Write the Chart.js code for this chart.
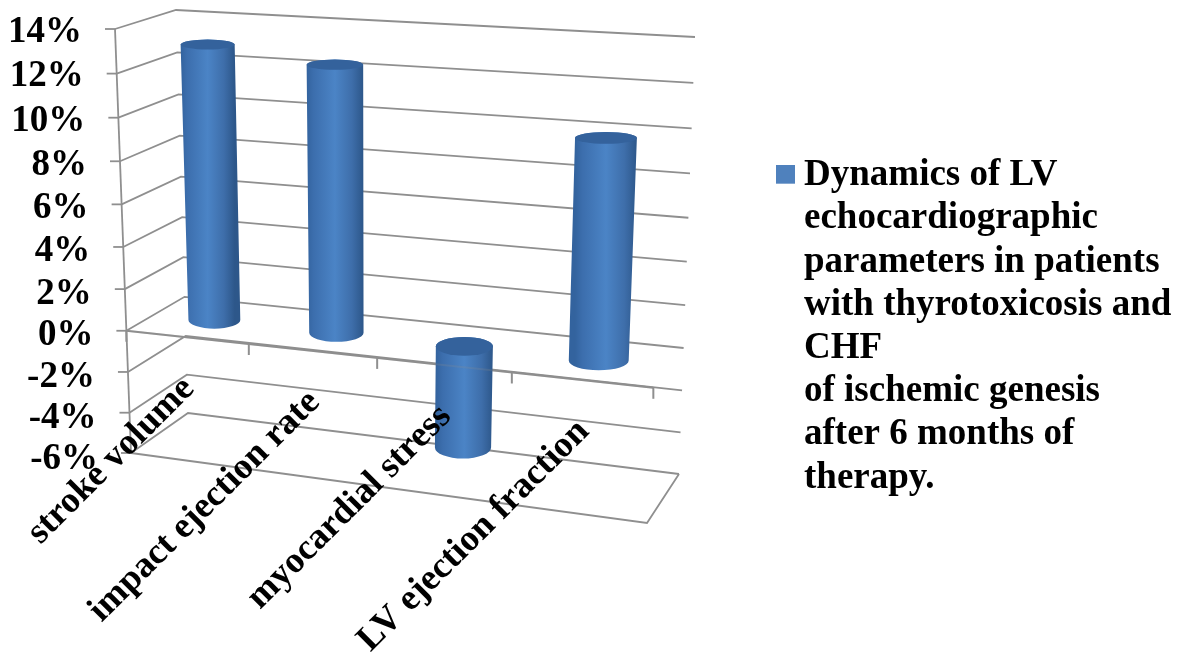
<!DOCTYPE html>
<html><head><meta charset="utf-8">
<style>html,body{margin:0;padding:0;background:#fff}canvas{display:block}</style>
<script src="https://cdn.jsdelivr.net/npm/chart.js@4"></script>
</head><body><canvas id="c" width="1186" height="653"></canvas>
<script>
const categories = ['stroke volume','impact ejection rate','myocardial stress','LV ejection fraction'];
const seriesValues = [13, 12.4, -4.8, 9.9];
const legendLines = ['Dynamics of LV','echocardiographic','parameters in patients','with thyrotoxicosis and','CHF','of ischemic genesis','after 6 months of','therapy.'];
const seriesName = legendLines.join(' ');
const valueMin = -6, valueMax = 14, valueStep = 2;

// projection frame of the 3D box: [top, bottom] corners of each vertical edge
const FL = [[115,29],[131,453]], BL = [[176,10],[188,413]], BR = [[695,37],[679,474]], FR = [[669,54],[647,523]];
const K_Y = 1.058, K_X = 0.908, BAR_DEPTH = 0.5, BAR_RADIUS_DEPTH = 0.25;
const lerp = (a,b,t)=>a+(b-a)*t;
const edge = (E,t)=>[lerp(E[0][0],E[1][0],t),lerp(E[0][1],E[1][1],t)];
function project(u,w,t){
  const U = K_X*u/(1+(K_X-1)*u);
  const a=edge(FL,t),b=edge(BL,t),c=edge(BR,t),d=edge(FR,t);
  const l=[lerp(a[0],b[0],w),lerp(a[1],b[1],w)], r=[lerp(d[0],c[0],w),lerp(d[1],c[1],w)];
  return [lerp(l[0],r[0],U),lerp(l[1],r[1],U)];
}

class PerspectiveValueScale extends Chart.LinearScale {
  getPixelForValue(v){
    const s=(this.max-v)/(this.max-this.min);
    return this.top+this.height*K_Y*s/(1+(K_Y-1)*s);
  }
  _computeLabelArea(){return undefined;}
  _computeLabelItems(area){
    const items=super._computeLabelItems(area);
    items.forEach((it,i)=>{
      const t=(this.getPixelForTick(i)-this.top)/this.height;
      const p=edge(FL,t);
      it.options.translation=[p[0]-33,p[1]+3+t*3];
      it.options.textAlign='right';
      it.options.textBaseline='middle';
      it.textOffset=0;
    });
    return items;
  }
}
PerspectiveValueScale.id='perspectiveValue';
PerspectiveValueScale.defaults=Chart.LinearScale.defaults;

class PerspectiveCategoryScale extends Chart.CategoryScale {
  _computeLabelArea(){return undefined;}
  _computeLabelItems(area){
    const items=super._computeLabelItems(area);
    const y=this.chart.scales.y;
    const t0=(y.getPixelForValue(0)-y.top)/y.height;
    items.forEach((it,i)=>{
      const u=(this.getPixelForTick(i)-this.left)/this.width;
      const p=project(u,0,t0);
      it.options.translation=[p[0]+2,p[1]+46];
      it.options.rotation=-Math.PI/4;
      it.options.textAlign='right';
      it.options.textBaseline='middle';
      it.textOffset=0;
    });
    return items;
  }
}
PerspectiveCategoryScale.id='perspectiveCategory';
PerspectiveCategoryScale.defaults=Chart.CategoryScale.defaults;
Chart.register(PerspectiveValueScale,PerspectiveCategoryScale);

let activeChart=null;
// cylinders: the library's bar element, drawn in the projected box
Chart.BarElement.prototype.draw=function(ctx){
  const ch=activeChart, xs=ch.scales.x, ys=ch.scales.y;
  const {x,y,base,width}=this;
  const u=(x-xs.left)/xs.width, du=width/2/xs.width;
  const tTop=(Math.min(y,base)-ys.top)/ys.height, tBot=(Math.max(y,base)-ys.top)/ys.height;
  const cyl=(t)=>{
    const c=project(u,BAR_DEPTH,t), l=project(u-du,BAR_DEPTH,t), r=project(u+du,BAR_DEPTH,t);
    const f=project(u,BAR_DEPTH-BAR_RADIUS_DEPTH,t), b=project(u,BAR_DEPTH+BAR_RADIUS_DEPTH,t);
    return {cx:c[0],cy:c[1],rx:(r[0]-l[0])/2,ry:Math.abs(f[1]-b[1])/2};
  };
  const A=cyl(tTop),B=cyl(tBot);
  const g=ctx.createLinearGradient(A.cx-A.rx,0,A.cx+A.rx,0);
  g.addColorStop(0,'#33639e');g.addColorStop(.12,'#3c6ead');g.addColorStop(.5,this.options.backgroundColor);
  g.addColorStop(.8,'#3e6eaa');g.addColorStop(1,'#2d578a');
  ctx.save();
  ctx.beginPath();
  ctx.moveTo(A.cx-A.rx,A.cy);
  ctx.lineTo(B.cx-B.rx,B.cy);
  ctx.ellipse(B.cx,B.cy,B.rx,B.ry,0,Math.PI,0,true);
  ctx.lineTo(A.cx+A.rx,A.cy);
  ctx.ellipse(A.cx,A.cy,A.rx,A.ry,0,0,Math.PI,true);
  ctx.closePath();
  ctx.fillStyle=g;ctx.fill();
  ctx.beginPath();
  ctx.ellipse(A.cx,A.cy,A.rx,A.ry,0,0,Math.PI*2);
  ctx.fillStyle='#34629c';ctx.fill();
  ctx.restore();
};

const GRID='#8f8f8f';
function line(ctx,pts){ctx.beginPath();pts.forEach((p,i)=>i?ctx.lineTo(p[0],p[1]):ctx.moveTo(p[0],p[1]));ctx.stroke();}
const walls={
  id:'walls',
  beforeInit(chart){activeChart=chart;},
  afterLayout(chart){
    chart.legend.left=771.5;
    chart.legend.bottom-=22;
  },
  beforeDatasetsDraw(chart){
    const ctx=chart.ctx, ys=chart.scales.y;
    ctx.save();ctx.strokeStyle=GRID;ctx.lineWidth=1.8;
    ys.ticks.forEach((tk,i)=>{
      const t=(ys.getPixelForTick(i)-ys.top)/ys.height;
      const a=edge(FL,t);
      line(ctx,[a,edge(BL,t),edge(BR,t)]);
      line(ctx,[[a[0]-10,a[1]],a]);
    });
    line(ctx,[edge(FL,0),edge(FL,1)]);
    line(ctx,[edge(FL,1),edge(FR,1),edge(BR,1)]);
    const t0=(ys.getPixelForValue(0)-ys.top)/ys.height;
    ctx.lineWidth=2;
    line(ctx,[edge(FL,t0),edge(FR,t0)]);
    for(let i=0;i<=categories.length;i++){
      const p=project(i/categories.length,0,t0);
      line(ctx,[p,[p[0],p[1]+11]]);
    }
    ctx.restore();
  },
  afterDatasetsDraw(chart){
    const ctx=chart.ctx, ys=chart.scales.y;
    const t0=(ys.getPixelForValue(0)-ys.top)/ys.height;
    ctx.save();ctx.strokeStyle='rgba(140,140,140,.22)';ctx.lineWidth=2;
    line(ctx,[edge(FL,t0),edge(FR,t0)]);
    ctx.restore();
  }
};

const swatch=document.createElement('canvas');
swatch.width=19;swatch.height=22;
const sc=swatch.getContext('2d');sc.fillStyle='#4f81bd';sc.fillRect(0,0,19,19);

new Chart(document.getElementById('c'),{
  type:'bar',
  data:{labels:categories,datasets:[{label:seriesName,data:seriesValues,backgroundColor:'#4b84c6',barPercentage:.435,categoryPercentage:1,clip:false}]},
  plugins:[walls],
  options:{
    responsive:false,animation:false,devicePixelRatio:1,
    layout:{padding:{top:29,left:0,right:0,bottom:0}},
    plugins:{
      tooltip:{enabled:false},title:{display:false},
      legend:{position:'right',align:'center',
        labels:{
          usePointStyle:true,pointStyleWidth:.01,boxHeight:22,padding:14,color:'#000',
          font:{family:'"Liberation Serif"',weight:'bold',size:37,lineHeight:1.168},
          generateLabels:()=>[{text:legendLines,pointStyle:swatch,fillStyle:'#4f81bd',strokeStyle:'#4f81bd',lineWidth:0,hidden:false,datasetIndex:0,fontColor:'#000'}]
        }}
    },
    scales:{
      x:{type:'perspectiveCategory',offset:true,
        afterFit:s=>{s.height=200},
        grid:{display:false},border:{display:false},
        ticks:{autoSkip:false,minRotation:45,maxRotation:45,color:'#000',z:1,font:{family:'"Liberation Serif"',weight:'bold',size:36.5}}},
      y:{type:'perspectiveValue',min:valueMin,max:valueMax,
        afterFit:s=>{s.width=100},
        grid:{display:false},border:{display:false},
        ticks:{stepSize:valueStep,autoSkip:false,color:'#000',callback:v=>v+'%',font:{family:'"Liberation Serif"',weight:'bold',size:37}}}
    }
  }
});
</script></body></html>
